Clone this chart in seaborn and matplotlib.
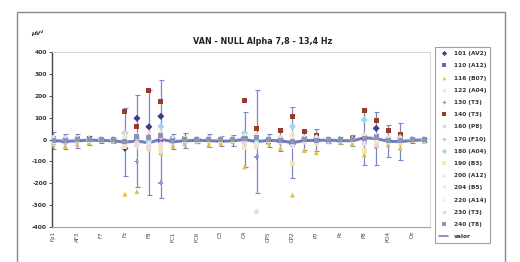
import matplotlib
matplotlib.use("Agg")
import matplotlib.pyplot as plt
from matplotlib.lines import Line2D
from matplotlib.patches import Rectangle
import numpy as np
import pandas as pd
import seaborn as sns

# electrodos (32), etiqueta visible una de cada dos
cats = ["Fp1", "Fp2", "AF3", "AF4", "F7", "F3", "Fz", "F4", "F8", "FC5", "FC1",
        "FC2", "FC6", "T7", "C3", "Cz", "C4", "T8", "CP5", "CP1", "CP2", "CP6",
        "P7", "P3", "Pz", "P4", "P8", "PO3", "PO4", "O1", "Oz", "O2"]

series_names = ["101 (AV2)", "110 (A12)", "116 (B07)", "122 (A04)", "130 (T3)",
                "140 (T3)", "160 (P8)", "170 (F10)", "180 (A04)", "190 (B3)",
                "200 (A12)", "204 (B5)", "220 (A14)", "230 (T3)", "240 (T8)"]

s101 = [-10, -12, -8, 2, -3, -2, -40, 97, 58, 106, -10, -8, -4, -6, -8, -5, 10, -5, -3, -10, -21, -5, -3, -4, -5, -2, 5, 51, -5, -8, -3, -2]
s110 = [5, -5, 3, 4, -2, -3, -10, 10, 8, -5, 5, 3, -2, -4, -3, 2, -5, -20, -8, 0, -15, 4, 6, -3, -2, 1, 10, 12, -6, 5, -2, -1]
s116 = [-25, -30, -20, -15, -5, -8, -250, -238, -40, -60, -30, -20, -10, -25, -15, -10, -125, -30, -15, -40, -254, -50, -60, -10, -12, -20, -70, -30, -25, -40, -5, -8]
s122 = [10, 8, 6, 5, 2, 2, 15, -15, 10, 12, 8, 6, 3, 5, 4, 3, -12, 10, 5, -10, 12, -10, -12, 3, 2, 4, 15, -10, 8, 6, 2, 2]
s130 = [10, 8, 5, 3, 0, -2, -20, -100, 15, -198, 8, 5, 2, 4, 3, 5, -10, -80, 5, 6, -30, 8, 10, 2, 3, 4, -15, -30, 6, 8, 2, 1]
s140 = [0, -2, 2, 5, -1, 0, 126, 58, 225, 175, -3, 2, -1, -2, -1, 0, 180, 51, -2, 40, 103, 35, 20, -2, 0, 5, 134, 88, 42, 24, -1, 0]
s160 = [-12, -10, -8, -5, -3, -2, 10, -15, 5, 15, -10, -8, -4, -6, -5, -4, 12, -10, -6, 6, -20, 6, 8, -3, -2, -5, 10, 6, -8, -10, -2, -1]
s170 = [-20, -18, -14, -8, -4, -3, -25, 20, -15, 10, -15, -12, -4, -10, -8, -6, -18, 12, -8, -15, -30, -15, -20, -4, -3, -6, -10, 15, -15, -18, -3, -2]
s180 = [6, 4, 3, 2, 1, 0, 30, 8, -10, 60, 5, 3, 2, 2, 2, 2, 30, -15, 3, 5, 60, 6, 8, 1, 1, 2, 90, 10, 6, 8, 1, 0]
s190 = [-8, -6, -5, -3, -2, -1, -30, -25, -35, -40, -6, -5, -2, -5, -4, -3, -35, -30, -4, -8, -110, -10, -12, -2, -1, -3, -50, -20, -10, -12, -1, -1]
s200 = [12, 10, 8, 6, 2, 1, 30, 25, 35, 40, 10, 8, 3, 6, 5, 4, 25, 30, 6, 10, 30, 12, 15, 3, 2, 5, 25, 20, 12, 15, 2, 1]
s204 = [-4, -3, -2, -2, -1, -1, -30, -40, -50, -60, -4, -3, -1, -2, -2, -1, -20, -40, -2, -4, -35, -5, -6, -1, -1, -2, -20, -25, -6, -8, -1, -1]
s220 = [3, 2, 2, 1, 0, 0, 12, 15, -20, 20, 2, 2, 1, 1, 1, 1, 8, -20, 1, 2, 8, 3, 3, 0, 0, 1, 12, -12, 3, 4, 0, 0]
s230 = [-6, -5, -4, -2, -1, -1, -15, -25, -30, -20, -5, -4, -2, -3, -2, -2, -20, -330, -3, -6, -12, -6, -8, -1, -1, -2, -20, -25, -8, -10, -1, -1]
s240 = [-3, -4, -2, 0, -1, -1, -8, 15, 10, 20, -3, -2, -1, -2, -2, -1, 6, 10, -1, -3, -8, -2, -3, -1, -1, -1, 6, 10, -4, -5, -1, -1]

valor = [-5, -8, -6, -3, -4, -6, -12, -7, -15, 1, -10, -6, -4, -5, -8, -6, 0, -10, -4, -6, -14, -5, -4, -3, -5, -6, 8, 4, -8, -10, -4, -2]
valor_err = [40, 35, 32, 20, 10, 12, 155, 209, 240, 269, 35, 35, 12, 28, 22, 25, 125, 235, 30, 45, 163, 45, 50, 12, 15, 25, 125, 121, 73, 85, 12, 10]

colors = ["#3b3d8c", "#6f62b0", "#e2c23a", "#efe4a6", "#9e8fd0", "#9a3a28",
          "#d6d6d6", "#c8b8e8", "#9fd6ee", "#f3e8b0", "#eee0c8", "#e0e2f0",
          "#f0ecd6", "#eed6e6", "#8c93b8"]
markers = ["D", "s", "^", "X", "P", "s", "o", "P", "D", "s", "^", "v", "p", "o", "s"]

all_vals = [s101, s110, s116, s122, s130, s140, s160, s170, s180, s190,
            s200, s204, s220, s230, s240]

pos = np.arange(len(cats))
df = pd.concat([pd.DataFrame({"pos": pos, "valor": v, "serie": n})
                for n, v in zip(series_names, all_vals)], ignore_index=True)

sns.set_theme(style="white")
plt.rcParams["font.family"] = ["DejaVu Sans"]

fig = plt.figure(figsize=(5.2, 2.62), dpi=100, facecolor="white")
ax = fig.add_axes([52 / 520, 1 - 227 / 262, (430 - 52) / 520, (227 - 52) / 262])

# marco exterior
fig.patches.append(Rectangle((17 / 520, -0.05), 488 / 520, 1.05 - 12 / 262,
                             transform=fig.transFigure, fill=False,
                             edgecolor="#8a8a8a", lw=1.0))

ax.errorbar(pos, valor, yerr=valor_err, fmt="none", ecolor="#7a86c8",
            elinewidth=0.9, capsize=1.8, capthick=0.8, zorder=1.5)
sns.lineplot(x=pos, y=valor, color="#7080c0", lw=2.2, ax=ax, zorder=2)
sns.scatterplot(data=df, x="pos", y="valor", hue="serie", style="serie",
                palette=dict(zip(series_names, colors)),
                markers=dict(zip(series_names, markers)),
                s=13, edgecolor="none", legend=False, ax=ax, zorder=3)

ax.set_xlim(-0.1, 31.5)
ax.set_ylim(-400, 400)
ax.set_yticks(np.arange(-400, 401, 100))
ax.set_yticklabels([str(t) for t in range(-400, 401, 100)], fontsize=4.3,
                   color="#333333", fontweight="bold")
ax.set_xticks(pos[::2])
ax.set_xticklabels(cats[::2], rotation=90, fontsize=4, color="#444444")
ax.tick_params(axis="y", length=2, width=0.6, pad=1.5, left=True, color="#333")
ax.tick_params(axis="x", length=0, pad=3)
ax.set_xlabel("")
ax.set_ylabel("")
for side in ["top", "right"]:
    ax.spines[side].set_color("#d0d0d0")
    ax.spines[side].set_linewidth(0.6)
ax.spines["left"].set_color("#444444")
ax.spines["left"].set_linewidth(1.0)
ax.spines["bottom"].set_color("#a0a0a0")
ax.spines["bottom"].set_linewidth(0.8)

fig.text(263 / 520, 1 - 42 / 262, "VAN - NULL Alpha 7,8 - 13,4 Hz",
         ha="center", va="center", fontsize=5.8, fontweight="bold", color="#222")
fig.text(37 / 520, 1 - 33 / 262, "µV²", ha="center", va="center",
         fontsize=4.5, fontweight="bold", fontstyle="italic", color="#333")

handles = [Line2D([], [], ls="none", marker=m, color=c, markersize=2.6,
                  markeredgewidth=0) for m, c in zip(markers, colors)]
handles.append(Line2D([], [], color="#7080c0", lw=1.2))
labels = series_names + ["valor"]
leg = fig.legend(handles, labels, loc="upper left",
                 bbox_to_anchor=(435 / 520, 1 - 47 / 262),
                 bbox_transform=fig.transFigure, fontsize=4.2, frameon=True,
                 fancybox=False, edgecolor="#888888", borderpad=0.7,
                 labelspacing=1.22, handlelength=1.6, handletextpad=0.9,
                 borderaxespad=0)
leg.get_frame().set_linewidth(0.8)
for t in leg.get_texts():
    t.set_color("#333333")
    t.set_fontweight("bold")

fig.savefig("out.png", dpi=100, facecolor="white")
